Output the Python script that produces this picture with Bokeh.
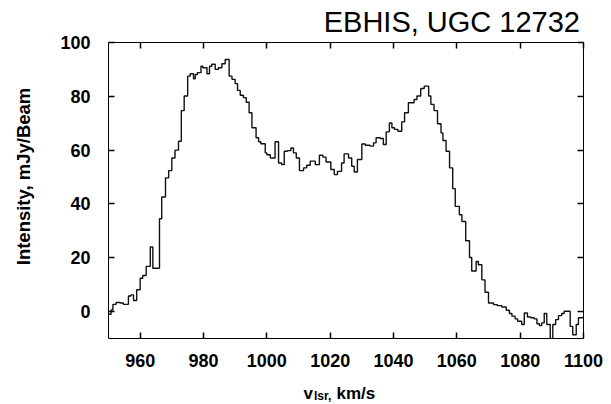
import math
from bokeh.plotting import figure
from bokeh.models import Range1d, LinearAxis, FixedTicker
from bokeh.core.properties import value
from bokeh.embed import file_html
from bokeh.resources import INLINE

# ---- data ----
velocity = [
    950.0, 950.8, 951.4, 952.4, 953.7, 954.7, 956.3, 957.1, 957.9, 958.9,
    960.0, 960.8, 961.9, 963.2, 964.0, 966.1, 966.8, 968.0, 969.0, 970.0,
    971.0, 972.1, 973.0, 973.9, 975.0, 975.8, 976.85, 977.4, 978.1, 979.2,
    979.8, 981.1, 981.9, 982.6, 983.7, 984.7, 985.8, 986.85, 988.1, 989.0,
    990.0, 990.75, 991.6, 992.6, 993.5, 994.4, 995.3, 996.6, 997.4, 998.1,
    999.5, 1000.0, 1001.1, 1002.6, 1003.7, 1004.7, 1005.5, 1006.5, 1007.6, 1008.4,
    1009.3, 1010.3, 1011.6, 1012.6, 1013.7, 1015.3, 1016.6, 1017.7, 1018.7, 1020.2,
    1021.3, 1022.3, 1023.6, 1024.4, 1025.8, 1026.8, 1027.6, 1028.6, 1030.0, 1031.1,
    1032.6, 1033.7, 1034.5, 1035.8, 1036.8, 1037.7, 1038.7, 1039.5, 1040.3, 1041.4,
    1042.6, 1043.5, 1044.7, 1046.5, 1047.4, 1048.6, 1049.7, 1051.1, 1051.8, 1052.8,
    1053.9, 1055.0, 1055.6, 1056.6, 1057.7, 1058.7, 1059.5, 1060.8, 1061.6, 1062.8,
    1064.0, 1064.7, 1066.1, 1066.8, 1067.9, 1068.9, 1070.0, 1071.6, 1072.8, 1074.2,
    1075.6, 1076.6, 1077.4, 1078.4, 1079.2, 1080.5, 1081.3, 1082.3, 1083.4, 1084.4,
    1085.3, 1086.1, 1086.8, 1087.6, 1088.4, 1089.5, 1090.3, 1091.2, 1092.1, 1093.1,
    1093.9, 1095.8, 1096.6, 1097.7, 1098.4, 1099.5, 1100.3, 1101.0,
]
intensity = [
    -1.0, 0.6, 2.7, 3.4, 3.2, 2.7, 5.8, 6.2, 4.1, 8.1,
    12.4, 13.4, 16.8, 24.0, 16.1, 34.5, 42.6, 49.7, 52.4, 57.1,
    60.0, 63.3, 74.7, 80.1, 87.5, 88.4, 86.5, 88.1, 88.8, 91.2,
    90.6, 88.4, 91.2, 91.9, 90.0, 90.6, 92.1, 93.7, 87.5, 86.3,
    84.7, 82.2, 80.4, 79.5, 77.8, 73.9, 68.3, 64.6, 63.1, 62.4,
    59.0, 58.3, 57.1, 63.1, 55.2, 54.6, 59.6, 59.8, 60.8, 59.0,
    57.1, 52.4, 53.4, 54.4, 55.9, 54.6, 58.1, 57.4, 55.6, 52.8,
    50.9, 52.1, 55.2, 58.6, 57.1, 54.0, 51.9, 56.5, 62.3, 61.8,
    61.5, 62.7, 64.6, 64.3, 62.1, 66.8, 70.1, 68.3, 67.7, 67.0,
    70.5, 73.9, 77.6, 78.8, 80.1, 82.9, 83.8, 80.1, 77.0, 74.7,
    69.8, 66.4, 63.6, 59.6, 53.4, 45.7, 39.1, 36.0, 33.5, 26.3,
    20.1, 15.1, 18.6, 17.4, 11.8, 7.2, 3.2, 2.6, 2.2, 1.7,
    0.5, -0.7, -1.7, -2.7, -3.6, -4.8, -0.5, -2.0, -2.3, -2.7,
    -4.5, -5.2, -4.2, -0.7, -4.8, -11.0, -4.8, -3.0, -1.5, -0.7,
    0.1, -5.5, -8.6, -4.8, -2.3, -2.3, -7.5, -7.5,
]
x_ticks = [960, 980, 1000, 1020, 1040, 1060, 1080, 1100]
y_ticks = [0, 20, 40, 60, 80, 100]
x_min, x_max = 950, 1100
y_min, y_max = -10, 100
title_text = "EBHIS, UGC 12732"
y_label = "Intensity, mJy/Beam"
x_label_main = "v"
x_label_sub = "lsr,"
x_label_unit = "km/s"

FONT = "Liberation Sans"

p = figure(width=611, height=404, output_backend="svg", toolbar_location=None,
           x_range=Range1d(x_min, x_max), y_range=Range1d(y_min, y_max),
           min_border_left=108, min_border_right=28, min_border_top=42, min_border_bottom=66,
           x_axis_location=None, y_axis_location=None)
p.grid.visible = False
p.background_fill_color = "white"
p.border_fill_color = "white"
p.outline_line_color = "black"
p.outline_line_width = 1
p.outline_line_alpha = 1.0


def style_axis(ax, labels=True):
    ax.level = "overlay"          # inward ticks drawn above the frame contents
    ax.axis_line_color = None
    ax.major_tick_in = 6
    ax.major_tick_out = 0
    ax.minor_tick_line_color = None
    ax.major_tick_line_color = "black"
    ax.major_tick_line_width = 1.5
    ax.major_label_text_font = FONT
    ax.major_label_text_font_style = "bold"
    ax.major_label_text_font_size = "18px"
    ax.major_label_text_color = "black"
    if not labels:
        ax.major_label_text_font_size = "0px"
        ax.major_label_standoff = 0
        ax.major_label_text_color = None


xb = LinearAxis(ticker=FixedTicker(ticks=x_ticks))
style_axis(xb)
xb.major_label_standoff = 15
p.add_layout(xb, "below")
xt = LinearAxis(ticker=FixedTicker(ticks=x_ticks))
style_axis(xt, labels=False)
p.add_layout(xt, "above")
yl = LinearAxis(ticker=FixedTicker(ticks=y_ticks))
style_axis(yl)
yl.major_label_standoff = 18
p.add_layout(yl, "left")
yr = LinearAxis(ticker=FixedTicker(ticks=y_ticks))
style_axis(yr, labels=False)
p.add_layout(yr, "right")

p.step(velocity, intensity, mode="after", line_color="#111111", line_width=1.4)

# texts outside the frame, anchored on the frame corners (pixel offsets)
p.text(x=[x_max], y=[y_max], text=[title_text], x_offset=-3.5, y_offset=-21,
       text_align="right", text_baseline="alphabetic",
       text_font=value(FONT), text_font_size="29px", text_color="black",
       level="overlay")
p.text(x=[x_min], y=[y_min], text=[y_label], x_offset=-85, y_offset=-162,
       angle=math.pi / 2, text_align="center", text_baseline="middle",
       text_font=value(FONT), text_font_style="bold", text_font_size="18.5px",
       text_color="black", level="overlay")
p.text(x=[x_min], y=[y_min], text=[x_label_main], x_offset=195, y_offset=54.5,
       text_align="left", text_baseline="alphabetic",
       text_font=value(FONT), text_font_style="bold", text_font_size="17px",
       text_color="black", level="overlay")
p.text(x=[x_min], y=[y_min], text=[x_label_sub], x_offset=205.5, y_offset=57,
       text_align="left", text_baseline="alphabetic",
       text_font=value(FONT), text_font_style="bold", text_font_size="12px",
       text_color="black", level="overlay")
p.text(x=[x_min], y=[y_min], text=[x_label_unit], x_offset=228, y_offset=54.5,
       text_align="left", text_baseline="alphabetic",
       text_font=value(FONT), text_font_style="bold", text_font_size="17px",
       text_color="black", level="overlay")

open("out.html", "w").write(file_html(p, INLINE))
